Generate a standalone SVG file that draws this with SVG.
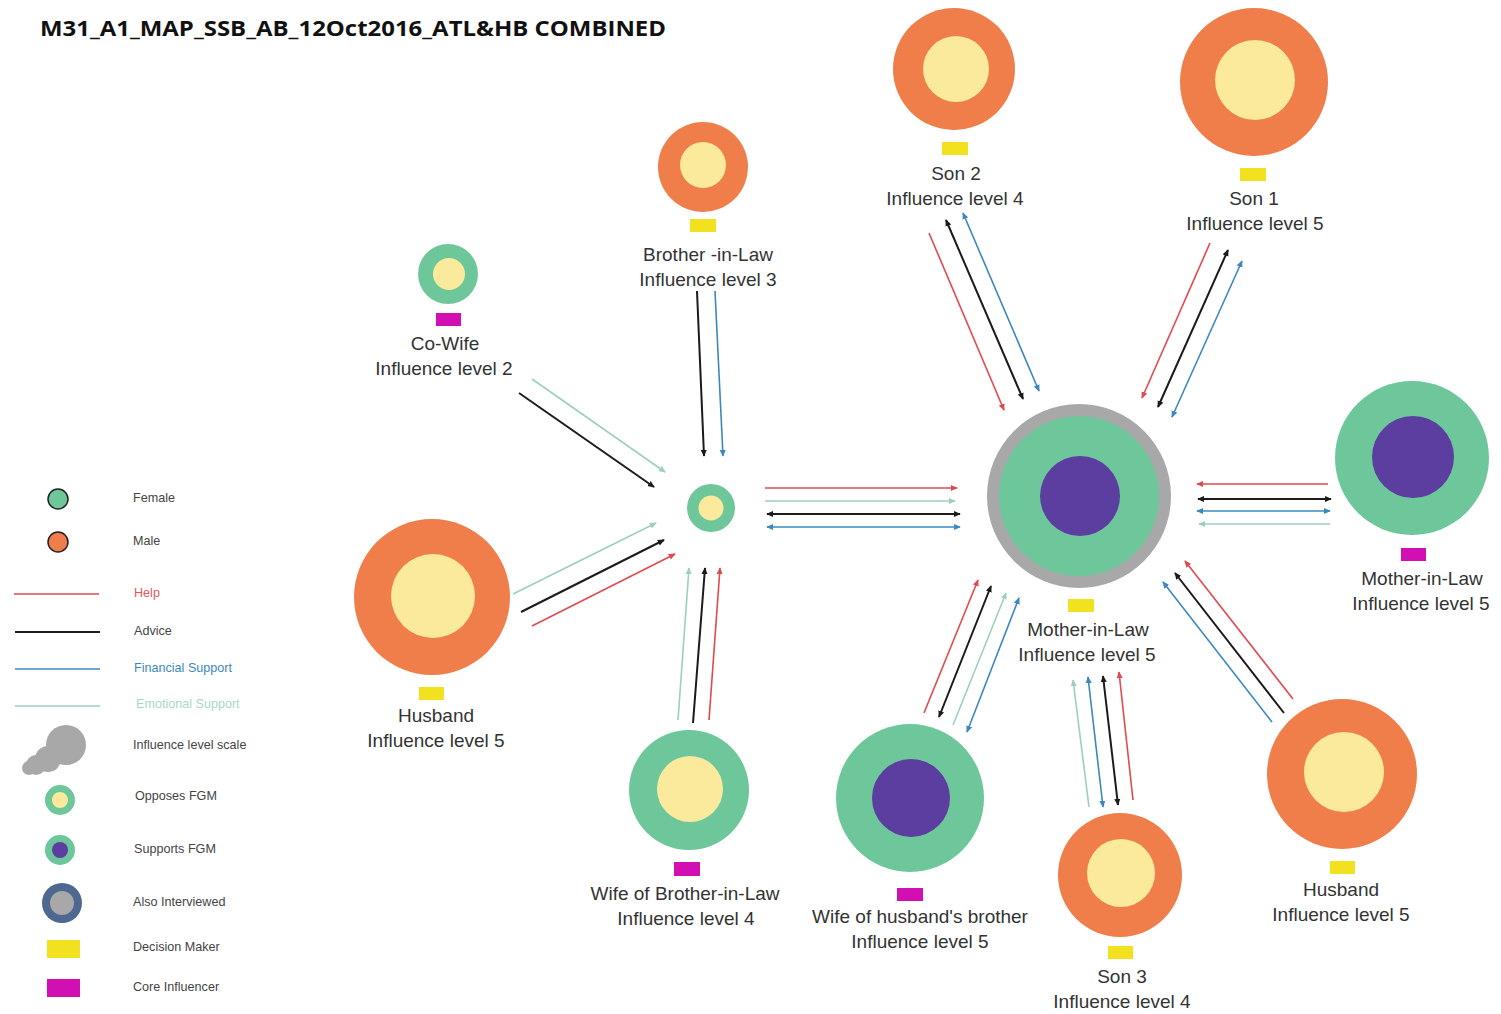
<svg xmlns="http://www.w3.org/2000/svg" width="1501" height="1014" viewBox="0 0 1501 1014">
<style>
.lbl{font-family:"Liberation Sans",Arial,sans-serif;font-size:19px;fill:#333;text-anchor:middle}
.leg{font-family:"Liberation Sans",Arial,sans-serif;font-size:12.6px;fill:#444}
.title{font-family:"Open Sans","Liberation Sans",Arial,sans-serif;font-size:21px;font-weight:bold;fill:#111}
.or{fill:#F07E4A}.ye{fill:#FCEA9C}.gr{fill:#6DC79B}.pu{fill:#5B3E9F}.gy{fill:#A8A8A8}
.dm{fill:#F2E11E}.ci{fill:#D20FB2}
.help{stroke:#E04A4F;stroke-width:1.6;fill:none}
.adv{stroke:#1b1b1b;stroke-width:2;fill:none}
.fin{stroke:#3C88BE;stroke-width:1.6;fill:none}
.emo{stroke:#9CCFBE;stroke-width:1.6;fill:none}
</style>
<defs>
<marker id="mh" viewBox="0 0 8 8" refX="7" refY="4" markerWidth="7" markerHeight="7" markerUnits="userSpaceOnUse" orient="auto-start-reverse"><path d="M0,0.5 L8,4 L0,7.5 z" fill="#E04A4F"/></marker>
<marker id="ma" viewBox="0 0 8 8" refX="7" refY="4" markerWidth="7" markerHeight="7" markerUnits="userSpaceOnUse" orient="auto-start-reverse"><path d="M0,0.5 L8,4 L0,7.5 z" fill="#1b1b1b"/></marker>
<marker id="mf" viewBox="0 0 8 8" refX="7" refY="4" markerWidth="7" markerHeight="7" markerUnits="userSpaceOnUse" orient="auto-start-reverse"><path d="M0,0.5 L8,4 L0,7.5 z" fill="#3C88BE"/></marker>
<marker id="me" viewBox="0 0 8 8" refX="7" refY="4" markerWidth="7" markerHeight="7" markerUnits="userSpaceOnUse" orient="auto-start-reverse"><path d="M0,0.5 L8,4 L0,7.5 z" fill="#9CCFBE"/></marker>
</defs>
<rect width="1501" height="1014" fill="#fff"/>
<text class="title" x="40" y="36" textLength="626" lengthAdjust="spacingAndGlyphs">M31_A1_MAP_SSB_AB_12Oct2016_ATL&amp;HB COMBINED</text>

<g id="connectors">
<line class="emo" x1="532" y1="379" x2="665" y2="472" marker-end="url(#me)"/>
<line class="adv" x1="519" y1="393" x2="654" y2="487" marker-end="url(#ma)"/>
<line class="adv" x1="697" y1="291" x2="704" y2="456" marker-end="url(#ma)"/>
<line class="fin" x1="715" y1="291" x2="723" y2="456" marker-end="url(#mf)"/>
<line class="emo" x1="513" y1="594" x2="656" y2="523" marker-end="url(#me)"/>
<line class="adv" x1="521" y1="612" x2="664" y2="540" marker-end="url(#ma)"/>
<line class="help" x1="532" y1="626" x2="675" y2="554" marker-end="url(#mh)"/>
<line class="emo" x1="678" y1="720" x2="689" y2="568" marker-end="url(#me)"/>
<line class="adv" x1="693" y1="723" x2="705" y2="568" marker-end="url(#ma)"/>
<line class="help" x1="709" y1="720" x2="720" y2="568" marker-end="url(#mh)"/>
<line class="help" x1="765" y1="488" x2="957" y2="488" marker-end="url(#mh)"/>
<line class="emo" x1="765" y1="501" x2="955" y2="501" marker-end="url(#me)"/>
<line class="adv" x1="767" y1="514" x2="960" y2="514" marker-start="url(#ma)" marker-end="url(#ma)"/>
<line class="fin" x1="767" y1="527" x2="960" y2="527" marker-start="url(#mf)" marker-end="url(#mf)"/>
<line class="help" x1="929" y1="233" x2="1004" y2="410" marker-end="url(#mh)"/>
<line class="adv" x1="946" y1="220" x2="1023" y2="399" marker-start="url(#ma)" marker-end="url(#ma)"/>
<line class="fin" x1="963" y1="213" x2="1039" y2="391" marker-start="url(#mf)" marker-end="url(#mf)"/>
<line class="help" x1="1210" y1="243" x2="1142" y2="398" marker-end="url(#mh)"/>
<line class="adv" x1="1228" y1="250" x2="1158" y2="407" marker-start="url(#ma)" marker-end="url(#ma)"/>
<line class="fin" x1="1242" y1="261" x2="1172" y2="417" marker-start="url(#mf)" marker-end="url(#mf)"/>
<line class="help" x1="1328" y1="484" x2="1197" y2="484" marker-end="url(#mh)"/>
<line class="adv" x1="1331" y1="499" x2="1198" y2="499" marker-start="url(#ma)" marker-end="url(#ma)"/>
<line class="fin" x1="1330" y1="511" x2="1197" y2="511" marker-start="url(#mf)" marker-end="url(#mf)"/>
<line class="emo" x1="1330" y1="524" x2="1199" y2="524" marker-end="url(#me)"/>
<line class="help" x1="924" y1="713" x2="978" y2="580" marker-end="url(#mh)"/>
<line class="adv" x1="939" y1="717" x2="991" y2="586" marker-start="url(#ma)" marker-end="url(#ma)"/>
<line class="emo" x1="953" y1="725" x2="1006" y2="593" marker-end="url(#me)"/>
<line class="fin" x1="967" y1="732" x2="1019" y2="598" marker-start="url(#mf)" marker-end="url(#mf)"/>
<line class="emo" x1="1089" y1="807" x2="1073" y2="680" marker-end="url(#me)"/>
<line class="fin" x1="1103" y1="807" x2="1088" y2="677" marker-start="url(#mf)" marker-end="url(#mf)"/>
<line class="adv" x1="1118" y1="805" x2="1103" y2="676" marker-start="url(#ma)" marker-end="url(#ma)"/>
<line class="help" x1="1133" y1="800" x2="1119" y2="672" marker-end="url(#mh)"/>
<line class="fin" x1="1272" y1="722" x2="1163" y2="582" marker-end="url(#mf)"/>
<line class="adv" x1="1284" y1="713" x2="1175" y2="573" marker-end="url(#ma)"/>
<line class="help" x1="1293" y1="699" x2="1185" y2="561" marker-end="url(#mh)"/>
</g>

<g id="node-ego">
<circle class="gr" cx="711" cy="508" r="24"/><circle class="ye" cx="711" cy="508" r="12.5"/>
</g>
<g id="node-mil-main">
<circle class="gy" cx="1079" cy="496" r="92"/><circle class="gr" cx="1079" cy="496" r="80"/><circle class="pu" cx="1080" cy="496" r="40"/>
<rect class="dm" x="1068" y="599" width="26" height="13"/>
<text class="lbl" x="1088" y="636">Mother-in-Law</text><text class="lbl" x="1087" y="661">Influence level 5</text>
</g>
<g id="node-son2">
<circle class="or" cx="954" cy="69" r="61"/><circle class="ye" cx="956" cy="69" r="33"/>
<rect class="dm" x="942" y="142" width="26" height="13"/>
<text class="lbl" x="956" y="180">Son 2</text><text class="lbl" x="955" y="205">Influence level 4</text>
</g>
<g id="node-son1">
<circle class="or" cx="1254" cy="82" r="74"/><circle class="ye" cx="1255" cy="80" r="40"/>
<rect class="dm" x="1240" y="168" width="26" height="13"/>
<text class="lbl" x="1254" y="205">Son 1</text><text class="lbl" x="1255" y="230">Influence level 5</text>
</g>
<g id="node-bil">
<circle class="or" cx="703" cy="167" r="45"/><circle class="ye" cx="703" cy="165" r="23"/>
<rect class="dm" x="690" y="219" width="26" height="13"/>
<text class="lbl" x="708" y="261">Brother -in-Law</text><text class="lbl" x="708" y="286">Influence level 3</text>
</g>
<g id="node-cowife">
<circle class="gr" cx="448" cy="274" r="30"/><circle class="ye" cx="449" cy="274" r="16"/>
<rect class="ci" x="436" y="313" width="25" height="13"/>
<text class="lbl" x="445" y="350">Co-Wife</text><text class="lbl" x="444" y="375">Influence level 2</text>
</g>
<g id="node-husband-left">
<circle class="or" cx="432" cy="597" r="78"/><circle class="ye" cx="433" cy="596" r="42"/>
<rect class="dm" x="419" y="687" width="25" height="13"/>
<text class="lbl" x="436" y="722">Husband</text><text class="lbl" x="436" y="747">Influence level 5</text>
</g>
<g id="node-wife-bil">
<circle class="gr" cx="689" cy="790" r="60"/><circle class="ye" cx="690" cy="789" r="33"/>
<rect class="ci" x="674" y="862" width="26" height="14"/>
<text class="lbl" x="685" y="900">Wife of Brother-in-Law</text><text class="lbl" x="686" y="925">Influence level 4</text>
</g>
<g id="node-wife-hb">
<circle class="gr" cx="910" cy="798" r="74"/><circle class="pu" cx="911" cy="798" r="39"/>
<rect class="ci" x="897" y="888" width="26" height="13"/>
<text class="lbl" x="920" y="923">Wife of husband's brother</text><text class="lbl" x="920" y="948">Influence level 5</text>
</g>
<g id="node-son3">
<circle class="or" cx="1120" cy="875" r="62"/><circle class="ye" cx="1121" cy="873" r="34"/>
<rect class="dm" x="1108" y="946" width="25" height="13"/>
<text class="lbl" x="1122" y="983">Son 3</text><text class="lbl" x="1122" y="1008">Influence level 4</text>
</g>
<g id="node-husband-right">
<circle class="or" cx="1342" cy="774" r="75"/><circle class="ye" cx="1344" cy="772" r="40"/>
<rect class="dm" x="1330" y="861" width="25" height="13"/>
<text class="lbl" x="1341" y="896">Husband</text><text class="lbl" x="1341" y="921">Influence level 5</text>
</g>
<g id="node-mil-right">
<circle class="gr" cx="1412" cy="458" r="77"/><circle class="pu" cx="1413" cy="457" r="41"/>
<rect class="ci" x="1401" y="548" width="25" height="13"/>
<text class="lbl" x="1422" y="585">Mother-in-Law</text><text class="lbl" x="1421" y="610">Influence level 5</text>
</g>

<g id="legend">
<circle cx="58" cy="499" r="10" fill="#6DC79B" stroke="#222" stroke-width="1.5"/>
<text class="leg" x="133" y="502">Female</text>
<circle cx="58" cy="542" r="10" fill="#F07E4A" stroke="#222" stroke-width="1.5"/>
<text class="leg" x="133" y="545">Male</text>
<line x1="14" y1="594" x2="99" y2="594" stroke="#E04A4F" stroke-width="1.6"/>
<text class="leg" x="134" y="597" style="fill:#E0585C">Help</text>
<line x1="15" y1="632" x2="100" y2="632" stroke="#1b1b1b" stroke-width="1.8"/>
<text class="leg" x="134" y="635">Advice</text>
<line x1="15" y1="669" x2="100" y2="669" stroke="#3C88BE" stroke-width="1.6"/>
<text class="leg" x="134" y="672" style="fill:#3C88BE">Financial Support</text>
<line x1="15" y1="706" x2="100" y2="706" stroke="#9CCFBE" stroke-width="1.6"/>
<text class="leg" x="136" y="708" style="fill:#A8D8C6">Emotional Support</text>
<g fill="#A8A8A8">
<circle cx="66" cy="745" r="20"/><circle cx="48" cy="759" r="13"/><circle cx="36" cy="765" r="10"/><circle cx="29" cy="768" r="7"/>
</g>
<text class="leg" x="133" y="749">Influence level scale</text>
<circle class="gr" cx="60" cy="800" r="15"/><circle class="ye" cx="60" cy="800" r="8"/>
<text class="leg" x="135" y="800">Opposes FGM</text>
<circle class="gr" cx="60" cy="850" r="15"/><circle class="pu" cx="60" cy="850" r="8"/>
<text class="leg" x="134" y="853">Supports FGM</text>
<circle cx="62" cy="903" r="20" fill="#4E6890"/><circle class="gy" cx="62" cy="903" r="12"/>
<text class="leg" x="133" y="906">Also Interviewed</text>
<rect class="dm" x="47" y="940" width="33" height="18"/>
<text class="leg" x="133" y="951">Decision Maker</text>
<rect class="ci" x="47" y="979" width="33" height="18"/>
<text class="leg" x="133" y="991">Core Influencer</text>
</g>
</svg>
